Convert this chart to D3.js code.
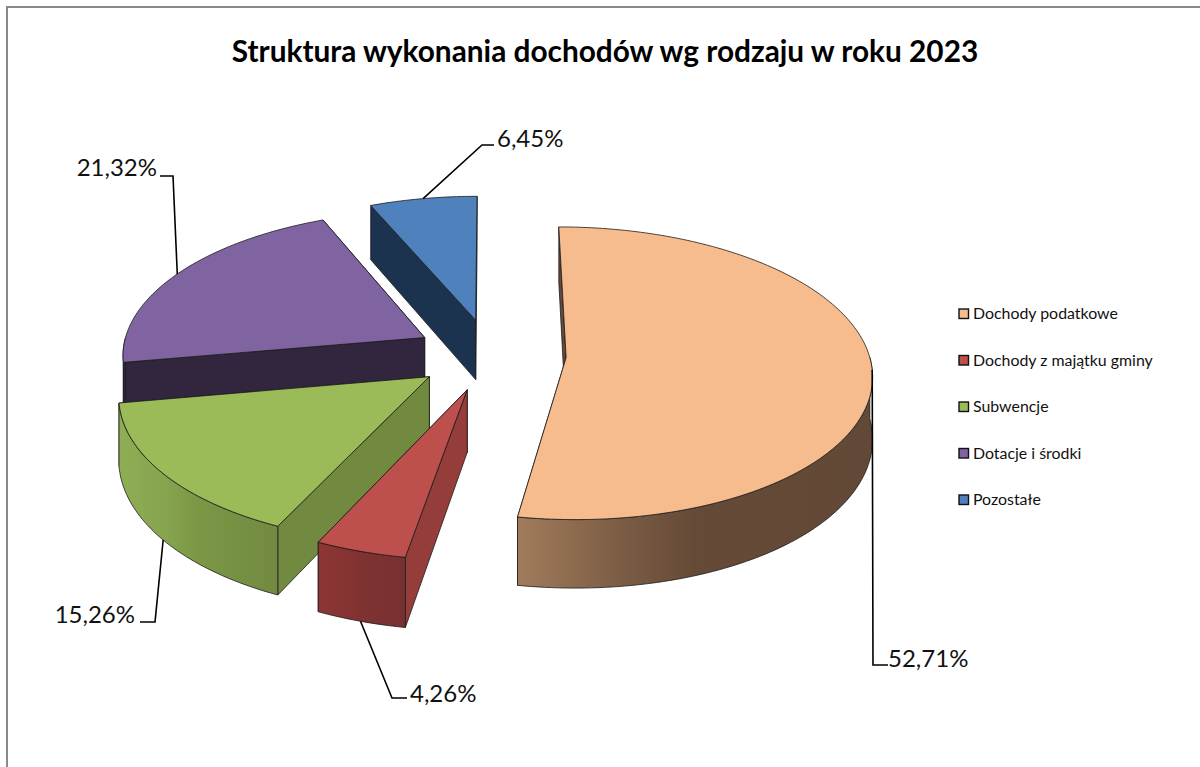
<!DOCTYPE html>
<html><head><meta charset="UTF-8">
<style>
  html, body { margin: 0; padding: 0; background: white; }
  svg { display: block; font-family: Lato, Carlito, sans-serif; }
</style>
</head>
<body>
<svg id="chart" width="1200" height="767"></svg>
<script src="https://cdn.jsdelivr.net/npm/d3@7"></script>
<script>
var title = "Struktura wykonania dochodów wg rodzaju w roku 2023";
var categories = ["Dochody podatkowe", "Dochody z majątku gminy", "Subwencje", "Dotacje i środki", "Pozostałe"];
var values = [52.71, 4.26, 15.26, 21.32, 6.45];

// colours: top face, cut wall, outer wall gradient
var topColors = ["#f7bc8d", "#bd4f4d", "#9bbb59", "#8064a2", "#4f81bd"];
var cutColors = ["#65493a", "#953d3a", "#728a40", "#32263f", "#1c3350"];
var wallStops = [
  ["#a17b5b", "#7a5c44", "#654a37", "#624836"],
  ["#8c3735", "#863332", "#7f3231", "#783030"],
  ["#8fae54", "#86a34e", "#7b9746", "#728a40"],
  ["#32263f", "#32263f", "#32263f", "#32263f"],
  ["#1c3350", "#1c3350", "#1c3350", "#1c3350"]
];

// leader line layout: elbow, end of line, text anchor for each slice
var leaderElbow = [[873, 665], [392, 698], [155, 622], [173, 176], [482, 145]];
var leaderEnd = [[888, 665], [407, 698], [140, 622], [160, 176], [494, 145]];
var labelAt = [[888, 667], [410, 702], [135, 623], [157, 176], [497, 147]];
var leaderOnBottom = [false, true, true, false, false];

var svg = d3.select("#chart");
var defs = svg.append("defs");

// 3D pie projection
var view = { cx: 490.5, cy: 354.5, rx: 303, ry: 144, persp: 0.107, height: 61, explode: 0.25 };

function project(x, y, z) {
  var s = 1 / (1 + view.persp * y);
  return [view.cx + view.rx * x * s, view.cy - view.ry * y * s + view.height * z * s];
}

var slices = d3.pie().sort(null).value(function (d) { return d; })(values).map(function (d, i) {
  var mid = (d.startAngle + d.endAngle) / 2;
  return {
    i: i,
    start: d.startAngle,
    end: d.endAngle,
    mid: mid,
    ox: view.explode * Math.sin(mid),
    oy: view.explode * Math.cos(mid)
  };
});

function rim(s, a, z) {
  return project(s.ox + Math.sin(a), s.oy + Math.cos(a), z);
}

function arcPoints(s, from, to, z, reverse) {
  var n = Math.max(4, Math.ceil((to - from) / 0.02));
  var pts = d3.range(n + 1).map(function (k) {
    return rim(s, from + (to - from) * k / n, z);
  });
  return reverse ? pts.reverse() : pts;
}

var line = d3.line();

// frame
svg.append("path")
  .attr("d", line([[7, 767], [7, 7], [1200, 7]]))
  .attr("fill", "none")
  .attr("stroke", "#8a8a8a")
  .attr("stroke-width", 2);

// title
svg.append("text")
  .attr("x", 605)
  .attr("y", 62)
  .attr("text-anchor", "middle")
  .attr("font-size", 29.8)
  .attr("font-weight", 700)
  .attr("fill", "#000")
  .text(title);

// far slices first
var order = slices.slice().sort(function (a, b) { return b.oy - a.oy; });

var pieG = svg.append("g")
  .attr("stroke", "#1c1c1c")
  .attr("stroke-width", 0.8)
  .attr("stroke-linejoin", "round");

order.forEach(function (s) {
  var apexTop = project(s.ox, s.oy, 0);
  var apexBot = project(s.ox, s.oy, 1);
  var g = pieG.append("g");

  // the two cut walls, the farther one first
  var cuts = [s.start, s.end].sort(function (a, b) { return Math.cos(b) - Math.cos(a); });
  cuts.forEach(function (a) {
    g.append("path")
      .attr("d", line([apexTop, rim(s, a, 0), rim(s, a, 1), apexBot]) + "Z")
      .attr("fill", cutColors[s.i]);
  });

  // outer wall, only the part that faces the viewer
  var from = Math.max(s.start, Math.PI / 2);
  var to = Math.min(s.end, Math.PI * 3 / 2);
  if (to > from) {
    var grad = defs.append("linearGradient").attr("id", "wall" + s.i);
    wallStops[s.i].forEach(function (c, k) {
      grad.append("stop").attr("offset", [0, 0.3, 0.5, 1][k]).attr("stop-color", c);
    });
    g.append("path")
      .attr("d", line(arcPoints(s, from, to, 0, false).concat(arcPoints(s, from, to, 1, true))) + "Z")
      .attr("fill", "url(#wall" + s.i + ")");
  }

  // top face
  g.append("path")
    .attr("d", line([apexTop].concat(arcPoints(s, s.start, s.end, 0, false))) + "Z")
    .attr("fill", topColors[s.i]);
});

// data labels and leader lines
slices.forEach(function (s, i) {
  var from = rim(s, s.mid, leaderOnBottom[i] ? 1 : 0);
  svg.append("path")
    .attr("d", line([from, leaderElbow[i], leaderEnd[i]]))
    .attr("fill", "none")
    .attr("stroke", "#000")
    .attr("stroke-width", 1.6);
  svg.append("text")
    .attr("x", labelAt[i][0])
    .attr("y", labelAt[i][1])
    .attr("text-anchor", labelAt[i][0] < leaderEnd[i][0] ? "end" : "start")
    .attr("font-size", 24)
    .attr("fill", "#111")
    .text(values[i].toFixed(2).replace(".", ",") + "%");
});

// legend
var legendY = d3.scalePoint().domain(categories).range([314, 500]);
var legend = svg.append("g").selectAll("g").data(categories).enter().append("g")
  .attr("transform", function (d) { return "translate(959," + legendY(d) + ")"; });
legend.append("rect")
  .attr("x", 0)
  .attr("y", -5)
  .attr("width", 9.5)
  .attr("height", 9.5)
  .attr("fill", function (d, i) { return topColors[i]; })
  .attr("stroke", "#111")
  .attr("stroke-width", 1.4);
legend.append("text")
  .attr("x", 14)
  .attr("y", 5)
  .attr("font-size", 15.9)
  .attr("fill", "#111")
  .text(function (d) { return d; });
</script>
</body></html>
